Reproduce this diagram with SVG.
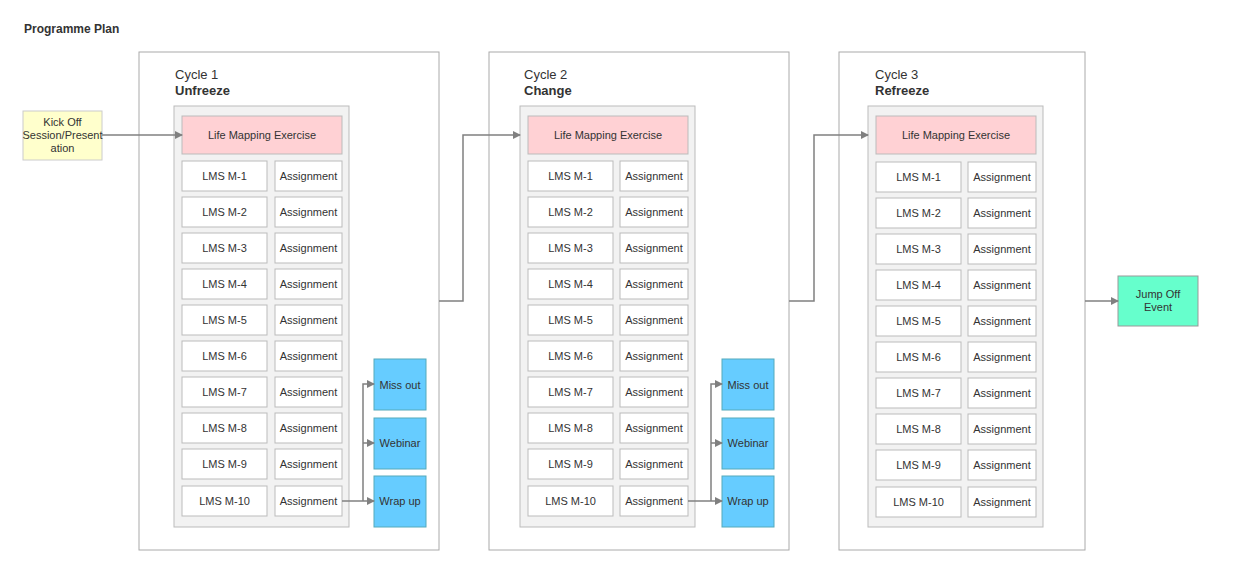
<svg xmlns="http://www.w3.org/2000/svg" width="1237" height="588" viewBox="0 0 1237 588">
<defs>
<marker id="ah" markerWidth="8" markerHeight="8" refX="7" refY="4" orient="auto" markerUnits="userSpaceOnUse"><path d="M0,0 L8,4 L0,8 Z" fill="#808080"/></marker>
<style>
text{font-family:"Liberation Sans",Arial,sans-serif;fill:#333;font-size:11px;text-anchor:middle}
.outer{fill:#fff;stroke:#aaa;stroke-width:1}
.panel{fill:#f2f2f2;stroke:#bbb}
.cell{fill:#fff;stroke:#bbb}
.life{fill:#ffd1d4;stroke:#bbb}
.blue{fill:#66ccff;stroke:#5ab}
.c{fill:none;stroke:#808080;stroke-width:1.5;marker-end:url(#ah)}
.lab{text-anchor:start;font-size:13px}
</style>
</defs>
<rect width="1237" height="588" fill="#fff"/>
<text x="24" y="33" style="text-anchor:start;font-weight:bold;font-size:12px">Programme Plan</text>
<g id="kickoff"><rect x="23" y="111" width="79" height="49" fill="#ffffcc" stroke="#ccc"/><text x="62.5" y="126">Kick Off</text><text x="62.5" y="139">Session/Present</text><text x="62.5" y="152">ation</text></g>
<g id="jumpoff"><rect x="1118" y="276" width="80" height="50" fill="#66ffcc" stroke="#999"/><text x="1158" y="298">Jump Off</text><text x="1158" y="311">Event</text></g>
<g id="cycle1"><rect class="outer" x="139" y="52" width="300" height="498"/><text class="lab" x="175" y="79">Cycle 1</text><text class="lab" x="175" y="95" font-weight="bold">Unfreeze</text></g>
<g id="cycle2"><rect class="outer" x="489" y="52" width="300" height="498"/><text class="lab" x="524" y="79">Cycle 2</text><text class="lab" x="524" y="95" font-weight="bold">Change</text></g>
<g id="cycle3"><rect class="outer" x="839" y="52" width="246" height="498"/><text class="lab" x="875" y="79">Cycle 3</text><text class="lab" x="875" y="95" font-weight="bold">Refreeze</text></g>
<g id="panel1"><rect class="panel" x="174" y="106" width="175" height="421"/><rect class="life" x="182" y="116" width="160" height="38"/><text x="262" y="139">Life Mapping Exercise</text></g>
<g id="panel2"><rect class="panel" x="520" y="106" width="175" height="421"/><rect class="life" x="528" y="116" width="160" height="38"/><text x="608" y="139">Life Mapping Exercise</text></g>
<g id="panel3"><rect class="panel" x="868" y="106" width="175" height="421"/><rect class="life" x="876" y="116" width="160" height="38"/><text x="956" y="139">Life Mapping Exercise</text></g>
<g id="rows1">
<rect class="cell" x="182" y="161" width="85" height="30"/><text x="224.5" y="180">LMS M-1</text><rect class="cell" x="275" y="161" width="67" height="30"/><text x="308.5" y="180">Assignment</text>
<rect class="cell" x="182" y="197" width="85" height="30"/><text x="224.5" y="216">LMS M-2</text><rect class="cell" x="275" y="197" width="67" height="30"/><text x="308.5" y="216">Assignment</text>
<rect class="cell" x="182" y="233" width="85" height="30"/><text x="224.5" y="252">LMS M-3</text><rect class="cell" x="275" y="233" width="67" height="30"/><text x="308.5" y="252">Assignment</text>
<rect class="cell" x="182" y="269" width="85" height="30"/><text x="224.5" y="288">LMS M-4</text><rect class="cell" x="275" y="269" width="67" height="30"/><text x="308.5" y="288">Assignment</text>
<rect class="cell" x="182" y="305" width="85" height="30"/><text x="224.5" y="324">LMS M-5</text><rect class="cell" x="275" y="305" width="67" height="30"/><text x="308.5" y="324">Assignment</text>
<rect class="cell" x="182" y="341" width="85" height="30"/><text x="224.5" y="360">LMS M-6</text><rect class="cell" x="275" y="341" width="67" height="30"/><text x="308.5" y="360">Assignment</text>
<rect class="cell" x="182" y="377" width="85" height="30"/><text x="224.5" y="396">LMS M-7</text><rect class="cell" x="275" y="377" width="67" height="30"/><text x="308.5" y="396">Assignment</text>
<rect class="cell" x="182" y="413" width="85" height="30"/><text x="224.5" y="432">LMS M-8</text><rect class="cell" x="275" y="413" width="67" height="30"/><text x="308.5" y="432">Assignment</text>
<rect class="cell" x="182" y="449" width="85" height="30"/><text x="224.5" y="468">LMS M-9</text><rect class="cell" x="275" y="449" width="67" height="30"/><text x="308.5" y="468">Assignment</text>
<rect class="cell" x="182" y="486" width="85" height="30"/><text x="224.5" y="505">LMS M-10</text><rect class="cell" x="275" y="486" width="67" height="30"/><text x="308.5" y="505">Assignment</text>
</g>
<g id="rows2">
<rect class="cell" x="528" y="161" width="85" height="30"/><text x="570.5" y="180">LMS M-1</text><rect class="cell" x="620" y="161" width="68" height="30"/><text x="654" y="180">Assignment</text>
<rect class="cell" x="528" y="197" width="85" height="30"/><text x="570.5" y="216">LMS M-2</text><rect class="cell" x="620" y="197" width="68" height="30"/><text x="654" y="216">Assignment</text>
<rect class="cell" x="528" y="233" width="85" height="30"/><text x="570.5" y="252">LMS M-3</text><rect class="cell" x="620" y="233" width="68" height="30"/><text x="654" y="252">Assignment</text>
<rect class="cell" x="528" y="269" width="85" height="30"/><text x="570.5" y="288">LMS M-4</text><rect class="cell" x="620" y="269" width="68" height="30"/><text x="654" y="288">Assignment</text>
<rect class="cell" x="528" y="305" width="85" height="30"/><text x="570.5" y="324">LMS M-5</text><rect class="cell" x="620" y="305" width="68" height="30"/><text x="654" y="324">Assignment</text>
<rect class="cell" x="528" y="341" width="85" height="30"/><text x="570.5" y="360">LMS M-6</text><rect class="cell" x="620" y="341" width="68" height="30"/><text x="654" y="360">Assignment</text>
<rect class="cell" x="528" y="377" width="85" height="30"/><text x="570.5" y="396">LMS M-7</text><rect class="cell" x="620" y="377" width="68" height="30"/><text x="654" y="396">Assignment</text>
<rect class="cell" x="528" y="413" width="85" height="30"/><text x="570.5" y="432">LMS M-8</text><rect class="cell" x="620" y="413" width="68" height="30"/><text x="654" y="432">Assignment</text>
<rect class="cell" x="528" y="449" width="85" height="30"/><text x="570.5" y="468">LMS M-9</text><rect class="cell" x="620" y="449" width="68" height="30"/><text x="654" y="468">Assignment</text>
<rect class="cell" x="528" y="486" width="85" height="30"/><text x="570.5" y="505">LMS M-10</text><rect class="cell" x="620" y="486" width="68" height="30"/><text x="654" y="505">Assignment</text>
</g>
<g id="rows3">
<rect class="cell" x="876" y="162" width="85" height="30"/><text x="918.5" y="181">LMS M-1</text><rect class="cell" x="968" y="162" width="68" height="30"/><text x="1002" y="181">Assignment</text>
<rect class="cell" x="876" y="198" width="85" height="30"/><text x="918.5" y="217">LMS M-2</text><rect class="cell" x="968" y="198" width="68" height="30"/><text x="1002" y="217">Assignment</text>
<rect class="cell" x="876" y="234" width="85" height="30"/><text x="918.5" y="253">LMS M-3</text><rect class="cell" x="968" y="234" width="68" height="30"/><text x="1002" y="253">Assignment</text>
<rect class="cell" x="876" y="270" width="85" height="30"/><text x="918.5" y="289">LMS M-4</text><rect class="cell" x="968" y="270" width="68" height="30"/><text x="1002" y="289">Assignment</text>
<rect class="cell" x="876" y="306" width="85" height="30"/><text x="918.5" y="325">LMS M-5</text><rect class="cell" x="968" y="306" width="68" height="30"/><text x="1002" y="325">Assignment</text>
<rect class="cell" x="876" y="342" width="85" height="30"/><text x="918.5" y="361">LMS M-6</text><rect class="cell" x="968" y="342" width="68" height="30"/><text x="1002" y="361">Assignment</text>
<rect class="cell" x="876" y="378" width="85" height="30"/><text x="918.5" y="397">LMS M-7</text><rect class="cell" x="968" y="378" width="68" height="30"/><text x="1002" y="397">Assignment</text>
<rect class="cell" x="876" y="414" width="85" height="30"/><text x="918.5" y="433">LMS M-8</text><rect class="cell" x="968" y="414" width="68" height="30"/><text x="1002" y="433">Assignment</text>
<rect class="cell" x="876" y="450" width="85" height="30"/><text x="918.5" y="469">LMS M-9</text><rect class="cell" x="968" y="450" width="68" height="30"/><text x="1002" y="469">Assignment</text>
<rect class="cell" x="876" y="487" width="85" height="30"/><text x="918.5" y="506">LMS M-10</text><rect class="cell" x="968" y="487" width="68" height="30"/><text x="1002" y="506">Assignment</text>
</g>
<g id="blue1">
<rect class="blue" x="374" y="359" width="52" height="51"/><text x="400" y="389">Miss out</text>
<rect class="blue" x="374" y="418" width="52" height="51"/><text x="400" y="447">Webinar</text>
<rect class="blue" x="374" y="476" width="52" height="51"/><text x="400" y="505">Wrap up</text>
</g>
<g id="blue2">
<rect class="blue" x="722" y="359" width="52" height="51"/><text x="748" y="389">Miss out</text>
<rect class="blue" x="722" y="418" width="52" height="51"/><text x="748" y="447">Webinar</text>
<rect class="blue" x="722" y="476" width="52" height="51"/><text x="748" y="505">Wrap up</text>
</g>
<g id="connectors">
<path class="c" d="M102,135 H182"/>
<path class="c" d="M439,301 H463 V135 H520"/>
<path class="c" d="M789,301 H814 V135 H868"/>
<path class="c" d="M1085,301 H1118"/>
<path class="c" d="M342,501 H374"/>
<path class="c" d="M363,501 V384 H374"/>
<path class="c" d="M363,443 H374"/>
<path class="c" d="M688,501 H722"/>
<path class="c" d="M711,501 V384 H722"/>
<path class="c" d="M711,443 H722"/>
</g>
</svg>
